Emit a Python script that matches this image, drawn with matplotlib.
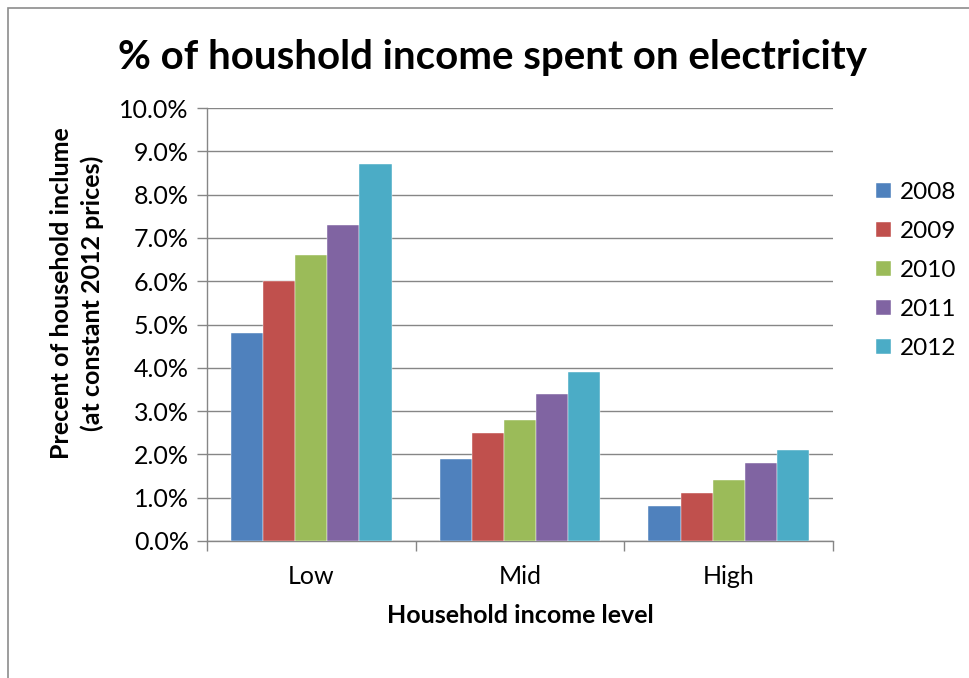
import numpy as np
import matplotlib.pyplot as plt
from matplotlib.patches import Rectangle
from matplotlib.ticker import PercentFormatter

# dados (% da renda)
niveis = ['Low', 'Mid', 'High']
anos = ['2008', '2009', '2010', '2011', '2012']
v2008 = [4.8, 1.9, 0.8]
v2009 = [6.0, 2.5, 1.1]
v2010 = [6.6, 2.8, 1.4]
v2011 = [7.3, 3.4, 1.8]
v2012 = [8.7, 3.9, 2.1]
series = [v2008, v2009, v2010, v2011, v2012]
cores = ['#4F81BD', '#C0504D', '#9BBB59', '#8064A2', '#4BACC6']

plt.rcParams['font.family'] = ['Lato', 'DejaVu Sans']

fig = plt.figure(figsize=(9.69, 6.78), dpi=100)
ax = fig.add_axes([207/969, 1-541/678, 626/969, 433/678])

# moldura do gráfico (cortada à direita e embaixo, como no original)
fig.patches.append(Rectangle((8/969, -0.1), 1.2, 1 - 8/678 + 0.1,
                             transform=fig.transFigure, fill=False,
                             edgecolor='#8c8c8c', linewidth=1.2))

x = np.arange(len(niveis))
w = 1 / 6.5
for i, (vals, cor, ano) in enumerate(zip(series, cores, anos)):
    ax.bar(x + (i - 2) * w, vals, width=w, color=cor, label=ano,
           edgecolor='white', linewidth=0.3, zorder=3)

ax.set_xlim(-0.5, 2.5)
ax.set_ylim(0, 10)
ax.set_yticks(np.arange(0, 10.1, 1))
ax.yaxis.set_major_formatter(PercentFormatter(decimals=1))
ax.grid(axis='y', color='#868686', linewidth=1, zorder=0)

ax.set_xticks(x)
ax.set_xticklabels(niveis)
ax.set_xticks(np.arange(-0.5, 2.6, 1), minor=True)
ax.tick_params(axis='x', which='major', length=0, pad=17, labelsize=18)
ax.tick_params(axis='x', which='minor', length=7, color='#868686', width=1)
ax.tick_params(axis='y', length=7, color='#868686', width=1, labelsize=18, pad=6)

for lado in ['top', 'right']:
    ax.spines[lado].set_visible(False)
for lado in ['left', 'bottom']:
    ax.spines[lado].set_color('#868686')
    ax.spines[lado].set_linewidth(1)

ax.set_xlabel('Household income level', fontsize=18, fontweight='bold', labelpad=12)

# rótulo do eixo y um pouco acima do centro, como no original
fig.text(77/969, 1 - 293/678, 'Precent of household inclume\n(at constant 2012 prices)',
         rotation=90, ha='center', va='center', multialignment='center',
         fontsize=18, fontweight='bold', linespacing=1.35)

fig.text(493/969, 1 - 57/678, '% of houshold income spent on electricity',
         ha='center', va='center', fontsize=29, fontweight='bold')

ax.legend(loc='upper left', bbox_to_anchor=((876 - 207) / 626, (541 - 182) / 433),
          frameon=False, borderaxespad=0, borderpad=0,
          fontsize=17.5, handlelength=0.6, handleheight=0.6,
          labelspacing=0.74, handletextpad=0.4)

fig.savefig('out.png', dpi=100)
